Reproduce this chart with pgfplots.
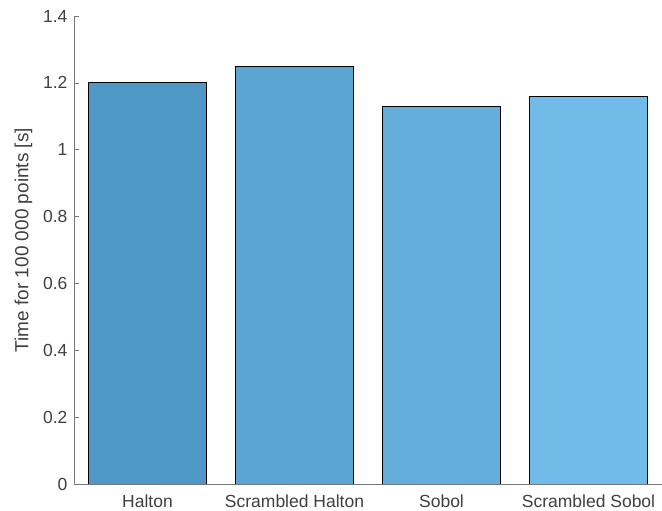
\documentclass[border=0pt]{standalone}
\usepackage{fontspec}
\setmainfont{Liberation Sans}
\usepackage{pgfplots}
\pgfplotsset{compat=1.18}

\definecolor{barA}{RGB}{79,151,196}
\definecolor{barB}{RGB}{91,165,210}
\definecolor{barC}{RGB}{101,174,220}
\definecolor{barD}{RGB}{113,187,232}
\definecolor{axgray}{RGB}{120,120,120}
\definecolor{txtgray}{RGB}{64,64,64}

\begin{document}
\begin{tikzpicture}
\begin{axis}[
  name=ax,
  scale only axis,
  width=588bp, height=468bp,
  ybar, bar width=0.8, bar shift=0pt,
  xmin=0.5, xmax=4.5,
  ymin=0, ymax=1.4,
  axis lines*=left,
  axis line style={axgray, line width=0.6pt},
  xtick={1,2,3,4},
  xticklabels={Halton, Scrambled Halton, Sobol, Scrambled Sobol},
  ytick={0,0.2,...,1.4},
  yticklabels={0,0.2,0.4,0.6,0.8,1,1.2,1.4},
  tick align=inside,
  major tick length=5bp,
  tick style={axgray, line width=0.6pt},
  x tick style={draw=none},
  ticklabel style={font=\fontsize{17.5bp}{20bp}\selectfont, text=txtgray},
  yticklabel style={xshift=-3bp},
  xticklabel style={yshift=-7bp},
  ylabel={Time for 100 000 points [s]},
  ylabel style={font=\fontsize{19bp}{22bp}\selectfont, text=txtgray,
                at={(ticklabel cs:0.521,4bp)}},
  /pgf/number format/assume math mode=true,
  every axis plot/.append style={draw=black, line width=0.8pt},
]
\addplot[fill=barA] coordinates {(1,1.20)};
\addplot[fill=barB] coordinates {(2,1.25)};
\addplot[fill=barC] coordinates {(3,1.13)};
\addplot[fill=barD] coordinates {(4,1.16)};
\end{axis}
\pgfresetboundingbox
\useasboundingbox (ax.south west) ++(-74bp,-27bp) rectangle ++(662bp,511bp);
\end{tikzpicture}
\end{document}
